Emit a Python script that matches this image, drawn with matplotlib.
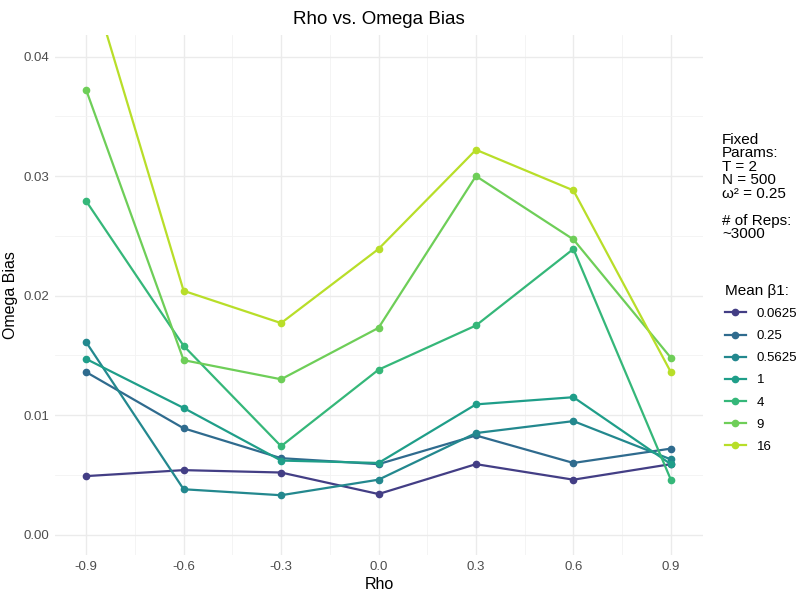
import matplotlib
matplotlib.use("Agg")
import matplotlib.pyplot as plt
from matplotlib.lines import Line2D

plt.rcParams['font.family'] = ['Liberation Sans', 'DejaVu Sans']

rho = [-0.9, -0.6, -0.3, 0.0, 0.3, 0.6, 0.9]
groups = ["0.0625", "0.25", "0.5625", "1", "4", "9", "16"]
bias_0625 = [0.0049, 0.0054, 0.0052, 0.0034, 0.0059, 0.0046, 0.0059]
bias_025 = [0.0136, 0.0089, 0.0064, 0.0059, 0.0083, 0.0060, 0.0072]
bias_05625 = [0.0161, 0.0038, 0.0033, 0.0046, 0.0085, 0.0095, 0.0063]
bias_1 = [0.0147, 0.0106, 0.0062, 0.0060, 0.0109, 0.0115, 0.0059]
bias_4 = [0.0279, 0.0158, 0.0074, 0.0138, 0.0175, 0.0239, 0.0046]
bias_9 = [0.0372, 0.0146, 0.0130, 0.0173, 0.0300, 0.0247, 0.0148]
bias_16 = [0.0476, 0.0204, 0.0177, 0.0239, 0.0322, 0.0288, 0.0136]
series = [bias_0625, bias_025, bias_05625, bias_1, bias_4, bias_9, bias_16]
colors = ["#433E85", "#2F6B8E", "#23888E", "#1F9E89", "#35B779", "#6ECE58", "#B8DE29"]

fig = plt.figure(figsize=(8.03, 6.03), dpi=100)
ax = fig.add_axes([55/803, 48/603, 648/803, 520/603])
for vals, c in zip(series, colors):
    ax.plot(rho, vals, color=c, lw=1.6, marker="o", ms=4.5, clip_on=True)

ax.set_xlim(-0.996, 0.999)
ax.set_ylim(-0.0017, 0.0418)
ax.set_xticks(rho)
ax.set_xticklabels([f"{v:.1f}" for v in rho])
ax.set_yticks([0, 0.01, 0.02, 0.03, 0.04])
ax.set_yticklabels(["0.00", "0.01", "0.02", "0.03", "0.04"])
ax.set_xticks([-0.75, -0.45, -0.15, 0.15, 0.45, 0.75], minor=True)
ax.set_yticks([0.005, 0.015, 0.025, 0.035], minor=True)
ax.grid(True, which="major", color="#EBEBEB", lw=1.0)
ax.grid(True, which="minor", color="#F3F3F3", lw=0.6)
ax.set_axisbelow(True)
for s in ax.spines.values():
    s.set_visible(False)
ax.tick_params(which="both", length=0, labelsize=9.5, colors="#4D4D4D", pad=4)
ax.set_xlabel("Rho", fontsize=11.5, labelpad=3)
ax.set_ylabel("Omega Bias", fontsize=11.5, labelpad=4)
ax.set_title("Rho vs. Omega Bias", fontsize=13.5, pad=8)

fig.text(722/803, 1-133/603, "Fixed\nParams:\nT = 2\nN = 500\nω² = 0.25\n\n# of Reps:\n~3000",
         fontsize=11, va="top", ha="left", linespacing=0.95)
handles = [Line2D([0], [0], color=c, lw=1.6, marker="o", ms=4.5) for c in colors]
leg = fig.legend(handles, groups, loc="upper left", bbox_to_anchor=(713/803, 1-272/603),
                 frameon=False, title="Mean β1:", fontsize=9.5, title_fontsize=11,
                 handlelength=1.6, labelspacing=0.75)
leg._legend_box.align = "left"
fig.savefig("out.png", dpi=100)
